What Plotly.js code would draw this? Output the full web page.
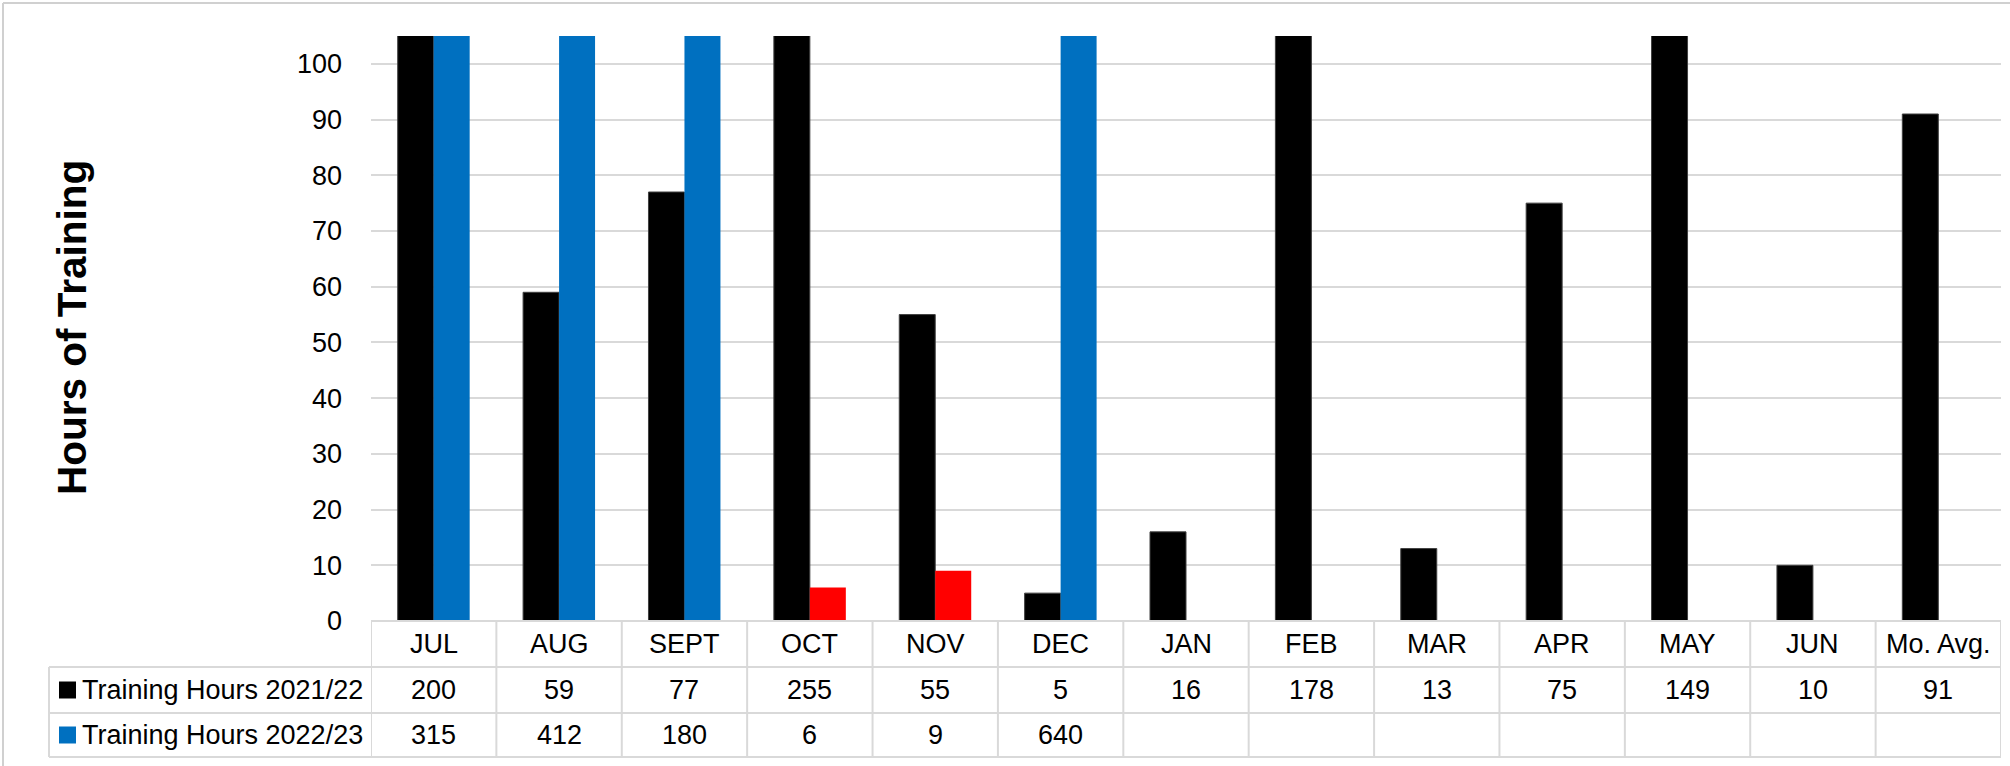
<!DOCTYPE html>
<html>
<head>
<meta charset="utf-8">
<script src="https://cdn.plot.ly/plotly-3.0.1.min.js"></script>
<style>
  html, body { margin: 0; padding: 0; background: #ffffff; }
  #chart { width: 2010px; height: 766px; }
</style>
</head>
<body>
<div id="chart"></div>
<script>
// ---- Data ----
const categories = ['JUL', 'AUG', 'SEPT', 'OCT', 'NOV', 'DEC', 'JAN', 'FEB', 'MAR', 'APR', 'MAY', 'JUN', 'Mo. Avg.'];
const seriesNames = ['Training Hours 2021/22', 'Training Hours 2022/23'];
const hours2122 = [200, 59, 77, 255, 55, 5, 16, 178, 13, 75, 149, 10, 91];
const hours2223 = [315, 412, 180, 6, 9, 640, null, null, null, null, null, null, null];
const highlightedMonths = ['OCT', 'NOV'];   // drawn in red in the 2022/23 series
const yTickValues = [0, 10, 20, 30, 40, 50, 60, 70, 80, 90, 100];

// ---- Styling / geometry ----
const BLACK = '#000000', BLUE = '#0070C0', RED = '#FF0000', GRID = '#D9D9D9';
const W = 2010, H = 766;
const PL = 371, PR = 2001, PT = 36, PB = 621;      // plot area in px
const pw = PR - PL, ph = PB - PT;
const px2x = p => (p - PL) / pw;
const py2y = p => (PB - p) / ph;
const FONT = 'Liberation Sans, Arial, sans-serif';
const FS = 27;

const rowHeaderY = 644, row1Y = 690, row2Y = 735;
const lineYs = [667, 713, 757];
const legendLeft = 49;

const colors2223 = categories.map(c => highlightedMonths.includes(c) ? RED : BLUE);

const traces = [
  { type: 'bar', x: categories, y: hours2122, name: seriesNames[0],
    marker: { color: BLACK, line: { color: '#404040', width: 1 } }, hoverinfo: 'x+y' },
  { type: 'bar', x: categories, y: hours2223, name: seriesNames[1],
    marker: { color: colors2223 }, hoverinfo: 'x+y' }
];

const shapes = [];
const gl = { color: GRID, width: 2 };
// table top (axis) line
shapes.push({ type: 'line', xref: 'paper', yref: 'paper', x0: 0, x1: px2x(PR), y0: 0, y1: 0, line: gl });
// table horizontal lines
lineYs.forEach(py => shapes.push({ type: 'line', xref: 'paper', yref: 'paper',
  x0: px2x(legendLeft), x1: px2x(PR), y0: py2y(py), y1: py2y(py), line: gl }));
// legend column left border
shapes.push({ type: 'line', xref: 'paper', yref: 'paper', x0: px2x(legendLeft), x1: px2x(legendLeft),
  y0: py2y(lineYs[0]), y1: py2y(lineYs[2]), line: gl });
// column boundaries
for (let k = 0; k <= categories.length; k++) {
  shapes.push({ type: 'line', xref: 'x', yref: 'paper', x0: k - 0.5, x1: k - 0.5,
    y0: 0, y1: py2y(lineYs[2]), line: gl });
}
// outer chart border (left & top)
shapes.push({ type: 'line', xref: 'paper', yref: 'paper', x0: px2x(3), x1: px2x(3), y0: py2y(3), y1: py2y(H + 5), line: { color: '#D0D0D0', width: 2 } });
shapes.push({ type: 'line', xref: 'paper', yref: 'paper', x0: px2x(3), x1: px2x(W + 5), y0: py2y(3), y1: py2y(3), line: { color: '#D0D0D0', width: 2 } });
// legend swatches
[[row1Y, BLACK], [row2Y, BLUE]].forEach(([cy, col]) => shapes.push({
  type: 'rect', xref: 'paper', yref: 'paper', x0: px2x(59), x1: px2x(76),
  y0: py2y(cy + 8.5), y1: py2y(cy - 8.5), fillcolor: col, line: { width: 0 } }));

const annotations = [];
const txt = (x, xref, y, text, xanchor) => ({ x, xref, y: py2y(y), yref: 'paper', text,
  showarrow: false, xanchor: xanchor || 'center', yanchor: 'middle',
  font: { family: FONT, size: FS, color: '#000000' } });
categories.forEach((c, i) => {
  annotations.push(txt(c, 'x', rowHeaderY, c));
  if (hours2122[i] !== null) annotations.push(txt(c, 'x', row1Y, String(hours2122[i])));
  if (hours2223[i] !== null) annotations.push(txt(c, 'x', row2Y, String(hours2223[i])));
});
annotations.push(txt(px2x(80), 'paper', row1Y, seriesNames[0], 'left'));
annotations.push(txt(px2x(80), 'paper', row2Y, seriesNames[1], 'left'));
// y-axis title
annotations.push({ x: px2x(72), xref: 'paper', y: py2y(328), yref: 'paper', text: '<b>Hours of Training</b>',
  textangle: -90, showarrow: false, xanchor: 'center', yanchor: 'middle',
  font: { family: FONT, size: 40.5, color: '#000000' } });

const layout = {
  width: W, height: H,
  margin: { l: PL, r: W - PR, t: PT, b: H - PB, pad: 0 },
  paper_bgcolor: '#ffffff', plot_bgcolor: '#ffffff',
  showlegend: false,
  barmode: 'group', bargap: 0.426, bargroupgap: 0,
  xaxis: { type: 'category', showticklabels: false, showgrid: false, zeroline: false,
    showline: false, ticks: '', range: [-0.5, categories.length - 0.5], fixedrange: true },
  yaxis: { range: [0, 105], tickvals: yTickValues, showgrid: true, gridcolor: GRID, gridwidth: 2,
    zeroline: false, showline: false, ticks: '', ticklabelstandoff: 28,
    tickfont: { family: FONT, size: FS, color: '#000000' }, fixedrange: true },
  shapes, annotations
};

Plotly.newPlot('chart', traces, layout, { displayModeBar: false, staticPlot: true });
</script>
</body>
</html>
